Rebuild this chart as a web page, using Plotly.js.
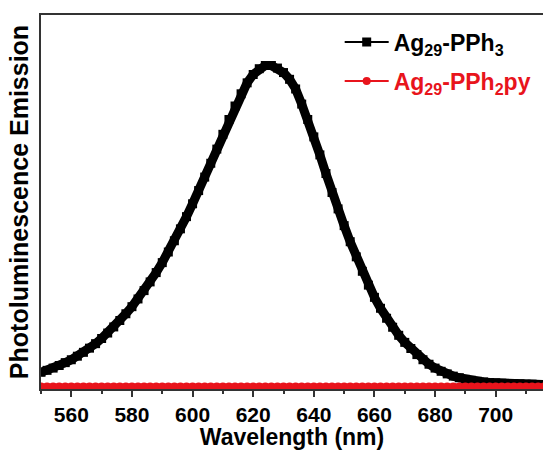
<!DOCTYPE html>
<html>
<head>
<meta charset="utf-8">
<script src="https://cdn.plot.ly/plotly-3.0.1.min.js"></script>
<style>html,body{margin:0;padding:0;background:#fff;}#chart{width:543px;height:450px;}</style>
</head>
<body>
<div id="chart"></div>
<script>
// Wavelength (nm)
var wavelength = [550,552,554,556,558,560,562,564,566,568,570,572,574,576,578,580,582,584,586,588,590,592,594,596,598,600,602,604,606,608,610,612,614,616,618,620,622,624,626,628,630,632,634,636,638,640,642,644,646,648,650,652,654,656,658,660,662,664,666,668,670,672,674,676,678,680,682,684,686,688,690,692,694,696,698,700,702,704,706,708,710,712,714,716];
// Ag29-PPh3 emission (normalised)
var pph3 = [0.044,0.050,0.057,0.065,0.074,0.083,0.094,0.106,0.119,0.133,0.149,0.166,0.185,0.205,0.226,0.248,0.272,0.298,0.325,0.354,0.385,0.418,0.453,0.490,0.528,0.568,0.609,0.651,0.694,0.738,0.784,0.830,0.872,0.910,0.944,0.970,0.988,0.998,0.998,0.990,0.976,0.955,0.925,0.878,0.830,0.776,0.720,0.662,0.603,0.552,0.500,0.450,0.403,0.358,0.315,0.277,0.243,0.212,0.184,0.159,0.137,0.118,0.099,0.083,0.069,0.057,0.047,0.039,0.032,0.027,0.022,0.019,0.016,0.014,0.012,0.011,0.010,0.009,0.008,0.008,0.007,0.007,0.006,0.006];
// Ag29-PPh2py emission (normalised)
var pph2py = [0,0,0,0,0,0,0,0,0,0,0,0,0,0,0,0,0,0,0,0,0,0,0,0,0,0,0,0,0,0,0,0,0,0,0,0,0,0,0,0,0,0,0,0,0,0,0,0,0,0,0,0,0,0,0,0,0,0,0,0,0,0,0,0,0,0,0,0,0,0,0,0,0,0,0,0,0,0,0,0,0,0,0,0];
var seriesNames = ['Ag<sub>29</sub>-PPh<sub>3</sub>', '<span style="color:#e8141c">Ag<sub>29</sub>-PPh<sub>2</sub>py</span>'];
var xTitle = 'Wavelength (nm)';
var yTitle = 'Photoluminescence Emission';

var BLACK = '#000000', RED = '#e8141c';
var FONT = 'Arial, "Liberation Sans", sans-serif';

var traces = [
  {x: wavelength, y: pph3, type: 'scatter', mode: 'lines', line: {color: BLACK, width: 9}, showlegend: false, hoverinfo: 'skip'},
  {x: wavelength, y: pph3, type: 'scatter', mode: 'lines+markers', name: seriesNames[0], legendgroup: 'a',
   line: {color: BLACK, width: 2}, marker: {symbol: 'square', size: 9, color: BLACK}},
  {x: wavelength, y: pph2py, type: 'scatter', mode: 'lines', line: {color: RED, width: 6}, showlegend: false, hoverinfo: 'skip'},
  {x: wavelength, y: pph2py, type: 'scatter', mode: 'lines+markers', name: seriesNames[1], legendgroup: 'b',
   line: {color: RED, width: 2}, marker: {symbol: 'circle', size: 8, color: RED}}
];

var layout = {
  width: 543, height: 450,
  margin: {l: 41, r: 0, t: 15, b: 61},
  paper_bgcolor: '#fff', plot_bgcolor: '#fff',
  font: {family: FONT, color: '#000'},
  showlegend: true,
  legend: {x: 0.595, y: 0.985, xanchor: 'left', yanchor: 'top', bgcolor: 'rgba(0,0,0,0)',
           font: {family: FONT, size: 23, weight: 'bold', color: '#000'}, tracegroupgap: 6, itemwidth: 44},
  xaxis: {
    range: [550, 715.6], tick0: 560, dtick: 20, ticks: 'outside', ticklen: 6, tickwidth: 2, tickcolor: '#333',
    minor: {dtick: 10, ticks: 'outside', ticklen: 3, tickwidth: 2, tickcolor: '#333'},
    showline: true, linecolor: '#333', linewidth: 2, mirror: true, showgrid: false, zeroline: false,
    tickfont: {family: FONT, size: 21, weight: 'bold', color: '#000'},
    title: {text: xTitle, font: {family: FONT, size: 23, weight: 'bold', color: '#000'}, standoff: 4}
  },
  yaxis: {
    range: [-0.008, 1.155], showticklabels: false, ticks: '', showgrid: false, zeroline: false,
    showline: true, linecolor: '#333', linewidth: 2, mirror: false,
    title: {text: yTitle, font: {family: FONT, size: 25, weight: 'bold', color: '#000'}, standoff: 3}
  }
};

Plotly.newPlot('chart', traces, layout, {displayModeBar: false, staticPlot: true});
</script>
</body>
</html>
